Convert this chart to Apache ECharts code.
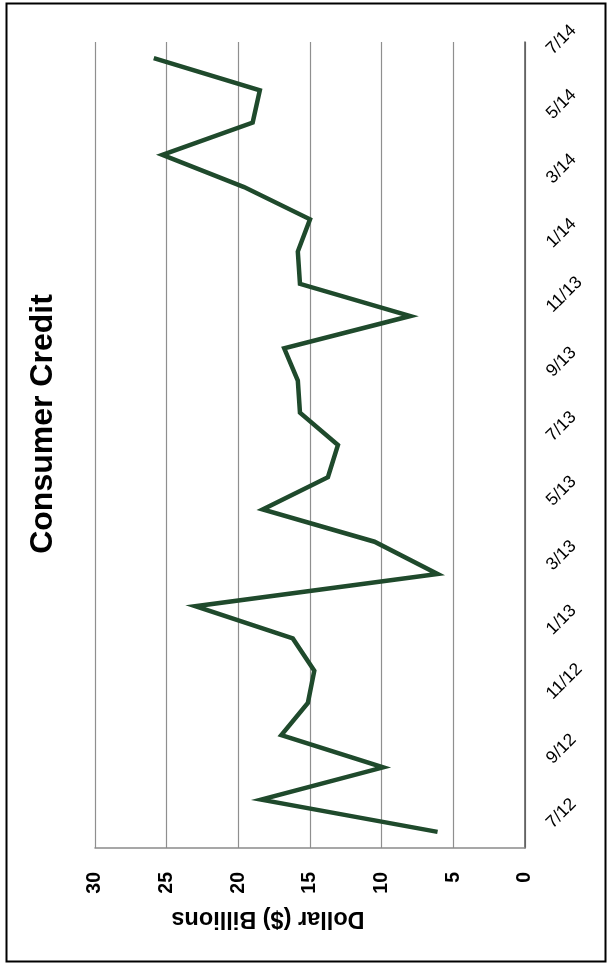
<!DOCTYPE html>
<html>
<head>
<meta charset="utf-8">
<script src="https://cdn.jsdelivr.net/npm/echarts@6/dist/echarts.min.js"></script>
<style>
html,body{margin:0;padding:0;background:#fff;}
#c{width:607px;height:968px;}
</style>
</head>
<body>
<div id="c"></div>
<script>
var categories = ['7/12','8/12','9/12','10/12','11/12','12/12',
  '1/13','2/13','3/13','4/13','5/13','6/13','7/13','8/13','9/13','10/13','11/13','12/13',
  '1/14','2/14','3/14','4/14','5/14','6/14','7/14'];
var creditValues = [6.1, 18.4, 9.9, 17.0, 15.15, 14.7, 16.2, 23.0, 6.1, 10.5, 18.3, 13.75, 13.05,
  15.7, 15.85, 16.8, 8.0, 15.7, 15.85, 15.0, 19.6, 25.3, 19.0, 18.5, 25.9];
var valueTicks = {min: 0, max: 30, interval: 5};
var titleText = 'Consumer Credit';
var axisTitle = 'Dollar ($) Billions';

var chart = echarts.init(document.getElementById('c'));
chart.setOption({
  backgroundColor: '#ffffff',
  animation: false,
  grid: {left: 95, right: 82, top: 42, bottom: 120},
  xAxis: {
    type: 'value',
    position: 'bottom',
    inverse: true,
    min: valueTicks.min, max: valueTicks.max, interval: valueTicks.interval,
    axisLine: {show: true, lineStyle: {color: '#8a8a8a', width: 1.5}},
    axisTick: {show: false},
    splitLine: {show: true, lineStyle: {color: '#8f8f8f', width: 1.2}},
    axisLabel: {rotate: 90, margin: 24, fontSize: 19.5, fontWeight: 'bold',
      fontFamily: 'Liberation Sans, Arial, sans-serif', color: '#000'},
    name: axisTitle,
    nameLocation: 'middle',
    nameRotate: 180,
    nameGap: 58,
    nameTextStyle: {fontSize: 23.5, fontWeight: 'bold', color: '#000',
      fontFamily: 'Liberation Sans, Arial, sans-serif', padding: [0, 0, 0, 84]}
  },
  yAxis: {
    type: 'category',
    position: 'right',
    data: categories,
    boundaryGap: true,
    axisLine: {show: true, lineStyle: {color: '#555', width: 1.5}},
    axisTick: {show: false},
    splitLine: {show: false},
    axisLabel: {interval: 1, rotate: 45, margin: 18, fontSize: 17.5,
      fontFamily: 'Liberation Sans, Arial, sans-serif', color: '#000',
      padding: [0, 0, 18, 9]}
  },
  series: [{
    type: 'line',
    data: creditValues,
    symbol: 'none',
    lineStyle: {color: '#1f4a2c', width: 4.5, join: 'miter'}
  }],
  graphic: [
    {type: 'rect', left: 4, top: 1, shape: {width: 599, height: 958},
      style: {fill: 'none', stroke: '#000', lineWidth: 2}, z: 10},
    {type: 'text', x: 43, y: 424, rotation: Math.PI / 2,
      style: {text: titleText, fontSize: 32, fontWeight: 'bold',
        fontFamily: 'Liberation Sans, Arial, sans-serif', fill: '#000',
        align: 'center', verticalAlign: 'middle'}}
  ]
});
</script>
</body>
</html>
